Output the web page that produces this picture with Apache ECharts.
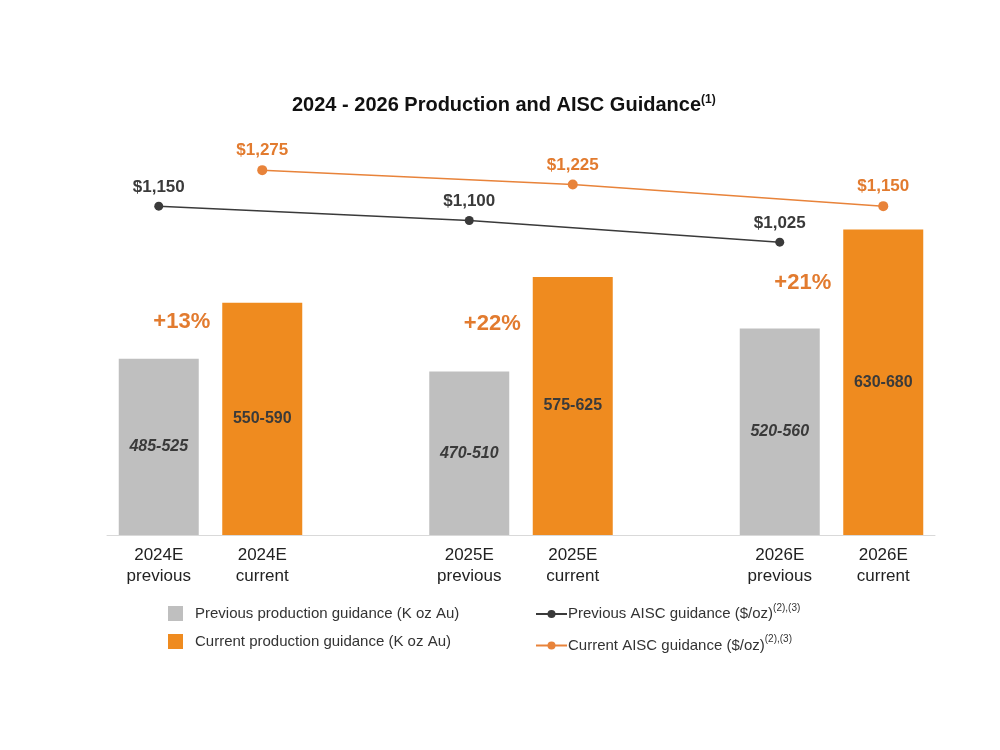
<!DOCTYPE html>
<html>
<head>
<meta charset="utf-8">
<script src="https://cdn.jsdelivr.net/npm/echarts@6/dist/echarts.min.js"></script>
<style>html,body{margin:0;padding:0;background:#fff}#c{width:1000px;height:750px}</style>
</head>
<body>
<div id="c"></div>
<script>
var categories = ['2024E\nprevious', '2024E\ncurrent', ' ', '2025E\nprevious', '2025E\ncurrent', '  ', '2026E\nprevious', '2026E\ncurrent'];
// production guidance midpoints (K oz Au) and range labels
var prevProd = [505, null, null, 490, null, null, 540, null];
var currProd = [null, 570, null, null, 600, null, null, 655];
var prevRange = ['485-525', '', '', '470-510', '', '', '520-560', ''];
var currRange = ['', '550-590', '', '', '575-625', '', '', '630-680'];
// AISC guidance ($/oz)
var prevAisc = [1150, null, null, 1100, null, null, 1025, null];
var currAisc = [null, 1275, null, null, 1225, null, null, 1150];
// increase annotations: [category index, level, text]
var increases = [[0, 548, '+13%'], [3, 545, '+22%'], [6, 593, '+21%']];

var FONT = "'Liberation Sans', Arial, sans-serif";
var ORANGE = '#EF8B1F', ORANGE_TXT = '#E27B2F', ORANGE_LINE = '#E8833A';
var GRAY = '#BFBFBF', DARK = '#3A3A3A';

var chart = echarts.init(document.getElementById('c'));
chart.setOption({
  backgroundColor: '#fff',
  animation: false,
  textStyle: { fontFamily: FONT },
  title: {
    text: '2024 - 2026 Production and AISC Guidance{sup|(1)}',
    left: 287, top: 89,
    textStyle: {
      fontFamily: FONT, fontSize: 20, fontWeight: 'bold', color: '#111',
      rich: { sup: { fontSize: 12, fontWeight: 'bold', color: '#111', verticalAlign: 'top', padding: [0, 0, 10, 0] } }
    }
  },
  grid: { left: 107, right: 65, top: 135, bottom: 215 },
  xAxis: {
    type: 'category', data: categories,
    axisLine: { lineStyle: { color: '#D9D9D9', width: 1 } },
    axisTick: { show: false },
    axisLabel: { fontFamily: FONT, fontSize: 17, color: '#222', lineHeight: 21, margin: 10, interval: 0 }
  },
  yAxis: [
    { type: 'value', min: 300, max: 765, show: false, splitLine: { show: false } },
    { type: 'value', min: 8, max: 1397, show: false, splitLine: { show: false } }
  ],
  legend: [
    {
      orient: 'vertical', left: 163, top: 601, itemWidth: 15, itemHeight: 15, itemGap: 13,
      icon: 'rect', selectedMode: false,
      textStyle: { fontFamily: FONT, fontSize: 15, color: '#333', padding: [0, 0, 0, 7] },
      data: ['Previous production guidance (K oz Au)', 'Current production guidance (K oz Au)']
    },
    {
      orient: 'vertical', left: 530, top: 598, itemWidth: 31, itemHeight: 10, itemGap: 13,
      selectedMode: false,
      formatter: function (n) { return '{t|' + n + '}{sup|(2),(3)}'; },
      textStyle: {
        fontFamily: FONT, fontSize: 15, color: '#333', padding: [0, 0, 0, -4],
        rich: {
          t: { fontFamily: FONT, fontSize: 15, color: '#333' },
          sup: { fontFamily: FONT, fontSize: 10, color: '#333', verticalAlign: 'top', padding: [0, 0, 12, 0] }
        }
      },
      data: ['Previous AISC guidance ($/oz)', 'Current AISC guidance ($/oz)']
    }
  ],
  series: [
    {
      name: 'Previous production guidance (K oz Au)', type: 'bar', data: prevProd,
      barWidth: 80, barGap: '-100%', itemStyle: { color: GRAY },
      label: {
        show: true, position: 'inside', fontFamily: FONT, fontSize: 16, fontWeight: 'bold', fontStyle: 'italic', color: DARK,
        formatter: function (p) { return prevRange[p.dataIndex]; }
      }
    },
    {
      name: 'Current production guidance (K oz Au)', type: 'bar', data: currProd,
      barWidth: 80, barGap: '-100%', itemStyle: { color: ORANGE },
      label: {
        show: true, position: 'inside', fontFamily: FONT, fontSize: 16, fontWeight: 'bold', color: DARK,
        formatter: function (p) { return currRange[p.dataIndex]; }
      },
      markPoint: {
        symbol: 'circle', symbolSize: 0,
        label: { show: true, position: 'inside', offset: [23, 0], fontFamily: FONT, fontSize: 22, fontWeight: 'bold', color: ORANGE_TXT,
          formatter: function (p) { return p.name; } },
        data: increases.map(function (d) { return { name: d[2], coord: [d[0], d[1]] }; })
      }
    },
    {
      name: 'Previous AISC guidance ($/oz)', type: 'line', yAxisIndex: 1, data: prevAisc, connectNulls: true,
      symbol: 'circle', symbolSize: 9, color: DARK,
      lineStyle: { color: DARK, width: 1.5 }, itemStyle: { color: DARK },
      label: { show: true, position: 'top', distance: 6, fontFamily: FONT, fontSize: 17, fontWeight: 'bold', color: DARK,
        formatter: function (p) { return '$' + p.value.toLocaleString('en-US'); } }
    },
    {
      name: 'Current AISC guidance ($/oz)', type: 'line', yAxisIndex: 1, data: currAisc, connectNulls: true,
      symbol: 'circle', symbolSize: 10, color: ORANGE_LINE,
      lineStyle: { color: ORANGE_LINE, width: 1.5 }, itemStyle: { color: ORANGE_LINE },
      label: { show: true, position: 'top', distance: 6, fontFamily: FONT, fontSize: 17, fontWeight: 'bold', color: ORANGE_TXT,
        formatter: function (p) { return '$' + p.value.toLocaleString('en-US'); } }
    }
  ]
});
</script>
</body>
</html>
